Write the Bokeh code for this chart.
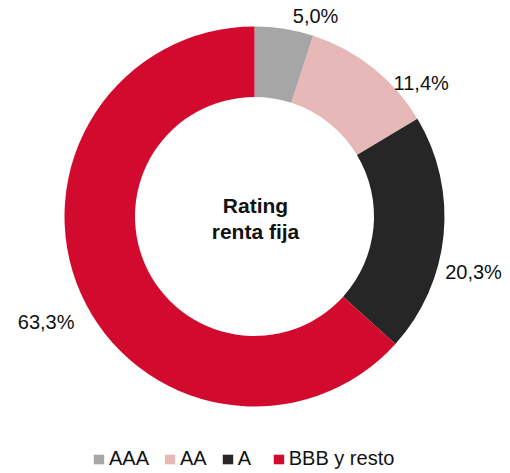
import math
from bokeh.plotting import figure
from bokeh.models import ColumnDataSource, Range1d, Legend, LegendItem
from bokeh.embed import file_html
from bokeh.resources import INLINE
from bokeh.core.properties import value

# ---- data ----
categories = ["AAA", "AA", "A", "BBB y resto"]
shares = [5.0, 11.4, 20.3, 63.3]
share_labels = ["5,0%", "11,4%", "20,3%", "63,3%"]
center_title = ["Rating", "renta fija"]

# ---- style ----
colors = ["#A6A6A6", "#E6B8B7", "#262626", "#D20A2E"]
W, H = 510, 473
CX, CY = 254, 257
R_IN, R_OUT = 119.5, 190
LABEL_R = 205
label_dx = [29, 39, 15, -21]
label_dy = [-2, -27, -36, -22]
FONT = "Liberation Sans"

total = sum(shares)
starts, ends, mids = [], [], []
cum = 0.0
for s in shares:
    a0 = math.pi / 2 - 2 * math.pi * cum / total
    cum += s
    a1 = math.pi / 2 - 2 * math.pi * cum / total
    starts.append(a0)
    ends.append(a1)
    mids.append((a0 + a1) / 2)

src = ColumnDataSource(dict(
    cat=categories, share=shares, start=starts, end=ends, color=colors,
))

lx = [CX + LABEL_R * math.cos(m) + dx for m, dx in zip(mids, label_dx)]
ly = [CY + LABEL_R * math.sin(m) + dy for m, dy in zip(mids, label_dy)]
lab_src = ColumnDataSource(dict(x=lx, y=ly, text=share_labels))

p = figure(width=W, height=H, output_backend="svg", toolbar_location=None,
           x_range=Range1d(0, W), y_range=Range1d(0, H),
           x_axis_type=None, y_axis_type=None, min_border=0,
           outline_line_color=None, background_fill_color="white",
           border_fill_color="white")
p.grid.visible = False

r = p.annular_wedge(x=CX, y=CY, inner_radius=R_IN, outer_radius=R_OUT,
                    start_angle="start", end_angle="end", direction="clock",
                    fill_color="color", line_color=None, source=src)

p.text(x="x", y="y", text="text", source=lab_src,
       text_font=value(FONT), text_font_size="20px", text_color="#111111",
       text_align="center", text_baseline="middle")

p.text(x=[CX + 1, CX + 1], y=[CY + 11, CY - 15], text=center_title,
       text_font=value(FONT), text_font_size="21px", text_font_style="bold",
       text_color="#111111", text_align="center", text_baseline="alphabetic")

items = [LegendItem(label=c, renderers=[r], index=i) for i, c in enumerate(categories)]
legend = Legend(items=items, orientation="horizontal", location=(92, 3),
                glyph_width=13, glyph_height=12, label_standoff=4, spacing=14,
                padding=0, margin=0, border_line_color=None,
                background_fill_alpha=0, label_text_font=FONT,
                label_text_font_size="20px", label_text_color="#111111")
p.add_layout(legend)

open("out.html", "w").write(file_html(p, INLINE))
